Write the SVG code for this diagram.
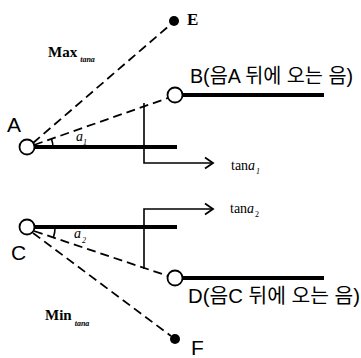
<svg xmlns="http://www.w3.org/2000/svg" width="361" height="358" viewBox="0 0 361 358">
<defs>
<style>
.thick{stroke:#000;stroke-width:4;fill:none}
.dash{stroke:#000;stroke-width:1.8;stroke-dasharray:9 5;fill:none}
.thin{stroke:#000;stroke-width:1.6;fill:none}
.node{fill:#fff;stroke:#000;stroke-width:1.8}
.dot{fill:#000}
.sans{font-family:"Liberation Sans","Noto Sans CJK KR",sans-serif;fill:#000}
.serif{font-family:"Liberation Serif","DejaVu Serif",serif;fill:#000}
</style>
<marker id="arr" markerWidth="14" markerHeight="14" refX="11" refY="7" orient="auto" markerUnits="userSpaceOnUse">
<path d="M3,1.5 L11,7 L3,12.5" fill="none" stroke="#000" stroke-width="1.8"/>
</marker>
</defs>
<g id="connectors">
<line class="dash" x1="33" y1="143" x2="170" y2="25"/>
<line class="dash" x1="34" y1="145" x2="168" y2="98"/>
<line class="dash" x1="34" y1="231" x2="168" y2="276"/>
<line class="dash" x1="33" y1="233" x2="171" y2="336"/>
<line class="thick" x1="35" y1="147" x2="177" y2="147"/>
<line class="thick" x1="183" y1="95" x2="324" y2="95"/>
<line class="thick" x1="35" y1="227" x2="177" y2="227"/>
<line class="thick" x1="183" y1="278" x2="324" y2="278"/>
<polyline class="thin" points="144,103 144,163 213,163" marker-end="url(#arr)"/>
<polyline class="thin" points="144,269 144,209 213,209" marker-end="url(#arr)"/>
<path class="thin" d="M53,148 A26,26 0 0 0 51.5,139"/>
<path class="thin" d="M55,228 A28,28 0 0 1 53.5,237"/>
</g>
<g id="A"><circle class="node" cx="27" cy="147" r="7.5"/><text class="sans" x="7" y="132" font-size="21">A</text></g>
<g id="B"><circle class="node" cx="175" cy="95" r="7.5"/><text class="sans" x="190" y="83" font-size="20" textLength="163" lengthAdjust="spacingAndGlyphs">B(음A 뒤에 오는 음)</text></g>
<g id="C"><circle class="node" cx="27" cy="227" r="7.5"/><text class="sans" x="11" y="260" font-size="21">C</text></g>
<g id="D"><circle class="node" cx="175" cy="278" r="7.5"/><text class="sans" x="188" y="303" font-size="20" textLength="172" lengthAdjust="spacingAndGlyphs">D(음C 뒤에 오는 음)</text></g>
<g id="E"><circle class="dot" cx="174" cy="21" r="5"/><text class="serif" x="187" y="25" font-size="17" font-weight="bold">E</text></g>
<g id="F"><circle class="dot" cx="175" cy="339" r="5"/><text class="sans" x="191" y="355" font-size="21">F</text></g>
<g id="labels">
<text class="serif" x="48" y="57" font-size="15" font-weight="bold">Max<tspan font-size="8" font-style="italic" dy="5" dx="3">tana</tspan></text>
<text class="serif" x="45" y="320" font-size="15" font-weight="bold">Min<tspan font-size="8" font-style="italic" dy="6" dx="3">tana</tspan></text>
<text class="serif" x="231" y="170" font-size="14">tan<tspan font-style="italic">a</tspan><tspan font-size="8" font-style="italic" dy="4" dx="1">1</tspan></text>
<text class="serif" x="230" y="213" font-size="14">tan<tspan font-style="italic">a</tspan><tspan font-size="8" dy="4" dx="1">2</tspan></text>
<text class="serif" x="76" y="141" font-size="14" font-style="italic">a<tspan font-size="8" dy="4">1</tspan></text>
<text class="serif" x="74" y="238" font-size="14" font-style="italic">a<tspan font-size="8" dy="5" dx="1">2</tspan></text>
</g>
</svg>
